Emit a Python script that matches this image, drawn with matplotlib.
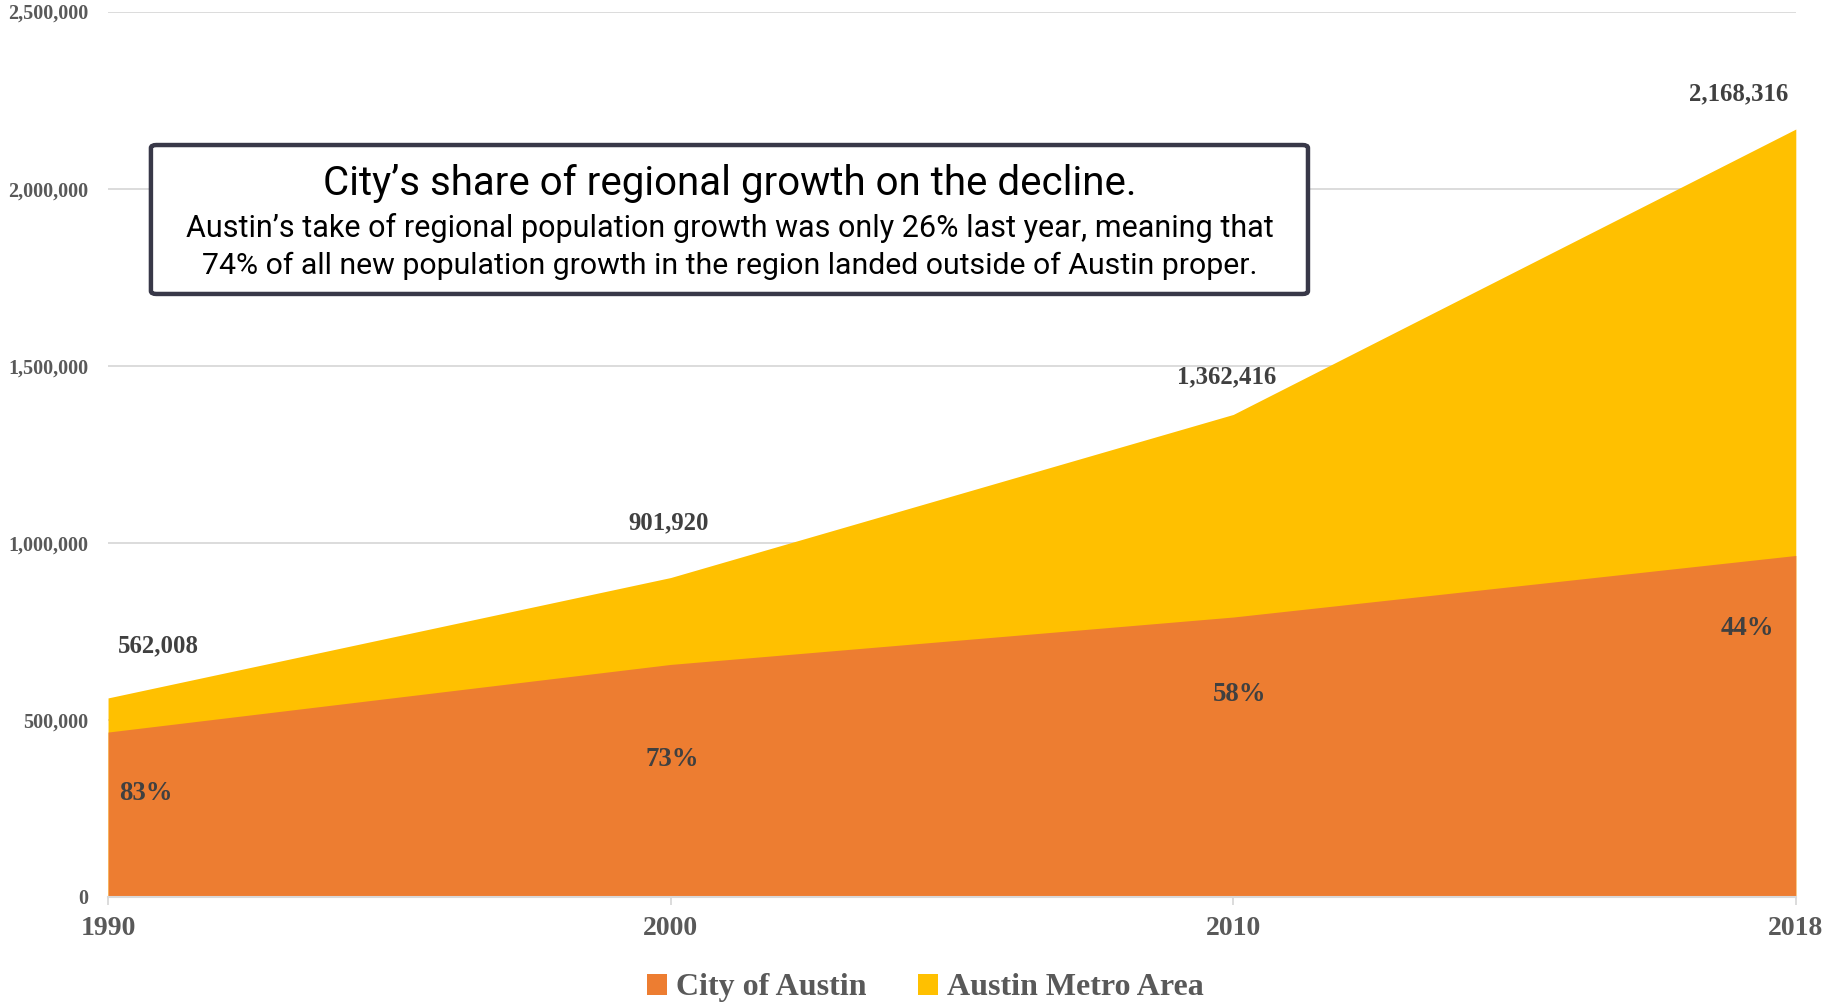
import matplotlib
matplotlib.use("Agg")
import matplotlib.pyplot as plt
from matplotlib.patches import FancyBboxPatch
from matplotlib.ticker import FuncFormatter

years = ["1990", "2000", "2010", "2018"]
city_pop = [465622, 656562, 790390, 964254]
metro_pop = [562008, 901920, 1362416, 2168316]

value_offsets = [(50, 52), (-2, 55), (-7, 38), (-57, 35)]
share_offsets = [(38, -61), (2, -95), (6, -77), (-48, -73)]

ORANGE = "#ED7D31"
GOLD = "#FFC000"
GREY = "#595959"
serif = ["Liberation Serif", "DejaVu Serif"]
narrow = ["Roboto", "DejaVu Sans"]

fig = plt.figure(figsize=(18.25, 10.05), dpi=100)
ax = fig.add_axes([0.0592, 0.1075, 0.9248, 0.881])

x = list(range(len(years)))
ax.fill_between(x, 0, metro_pop, color=GOLD, linewidth=0, label="Austin Metro Area")
ax.fill_between(x, 0, city_pop, color=ORANGE, linewidth=0, label="City of Austin")

ax.set_xlim(0, len(years) - 1)
ax.set_ylim(0, 2500000)
ax.set_yticks(range(0, 2500001, 500000))
ax.yaxis.set_major_formatter(FuncFormatter(lambda v, p: f"{int(v):,}"))
ax.set_xticks(x)
ax.set_xticklabels(years)
ax.grid(axis="y", color="#D9D9D9", linewidth=1.3)
ax.set_axisbelow(True)
for s in ["top", "right", "left"]:
    ax.spines[s].set_visible(False)
ax.spines["bottom"].set_color("#D9D9D9")
ax.spines["bottom"].set_linewidth(1.5)
ax.spines["bottom"].set_zorder(5)
ax.tick_params(axis="y", length=0, pad=14, labelsize=14.5, labelcolor=GREY)
ax.tick_params(axis="x", length=6, width=1.3, color="#D9D9D9", pad=8,
               labelsize=20, labelcolor=GREY)
for lab in ax.get_yticklabels() + ax.get_xticklabels():
    lab.set_family(serif)
    lab.set_fontweight("bold")

for i, (v, off) in enumerate(zip(metro_pop, value_offsets)):
    ax.annotate(f"{v:,}", xy=(i, v), xytext=off, textcoords="offset pixels",
                ha="center", va="center", fontsize=17.8, fontweight="bold",
                family=serif, color="#404040", annotation_clip=False)

for i, (c, m, off) in enumerate(zip(city_pop, metro_pop, share_offsets)):
    ax.annotate(f"{round(100 * c / m)}%", xy=(i, c), xytext=off,
                textcoords="offset pixels", ha="center", va="center",
                fontsize=19.3, fontweight="bold", family=serif, color="#404040")

# Callout box
box = FancyBboxPatch((0.0827, 0.7075), 0.634, 0.1482, boxstyle="round,pad=0,rounding_size=0.003",
                     transform=fig.transFigure, facecolor="white", edgecolor="#383848",
                     linewidth=3.2, zorder=10)
fig.patches.append(box)
fig.text(0.3997, 0.817, "City’s share of regional growth on the decline.", ha="center",
         va="center", fontsize=29, family=narrow, color="black", zorder=11)
fig.text(0.3997, 0.773, "Austin’s take of regional population growth was only 26% last year, meaning that",
         ha="center", va="center", fontsize=22, family=narrow, color="black", zorder=11)
fig.text(0.3997, 0.735, "74% of all new population growth in the region landed outside of Austin proper.",
         ha="center", va="center", fontsize=21.8, family=narrow, color="black", zorder=11)

handles, labels = ax.get_legend_handles_labels()
leg = fig.legend(handles[::-1], labels[::-1], loc="center", bbox_to_anchor=(0.507, 0.017),
                 ncol=2, frameon=False, handlelength=0.62, handleheight=0.62,
                 handletextpad=0.3, columnspacing=1.6,
                 prop={"family": serif, "weight": "bold", "size": 23})
for t in leg.get_texts():
    t.set_color(GREY)

fig.savefig("out.png", dpi=100, facecolor="white")
